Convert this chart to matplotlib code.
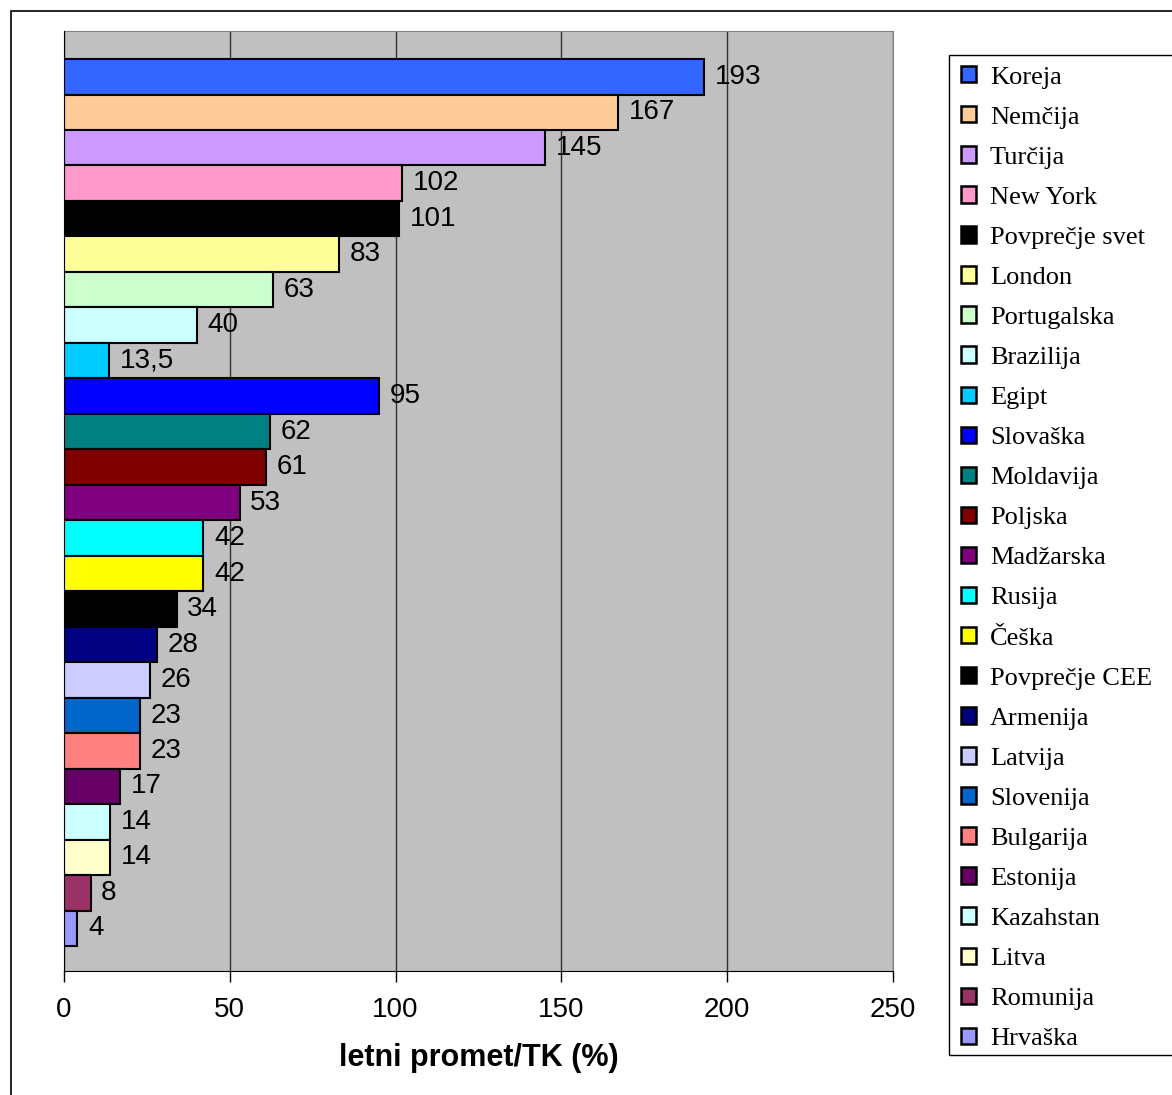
import matplotlib.pyplot as plt
from matplotlib.patches import Rectangle, Patch

countries = ['Koreja', 'Nemčija', 'Turčija', 'New York', 'Povprečje svet',
             'London', 'Portugalska', 'Brazilija', 'Egipt', 'Slovaška',
             'Moldavija', 'Poljska', 'Madžarska', 'Rusija', 'Češka',
             'Povprečje CEE', 'Armenija', 'Latvija', 'Slovenija', 'Bulgarija',
             'Estonija', 'Kazahstan', 'Litva', 'Romunija', 'Hrvaška']
values = [193, 167, 145, 102, 101, 83, 63, 40, 13.5, 95,
          62, 61, 53, 42, 42, 34, 28, 26, 23, 23,
          17, 14, 14, 8, 4]
colors = ['#3366FF', '#FFCC99', '#CC99FF', '#FF99CC', '#000000',
          '#FFFF99', '#CCFFCC', '#CCFFFF', '#00CCFF', '#0000FF',
          '#008080', '#800000', '#800080', '#00FFFF', '#FFFF00',
          '#000000', '#000080', '#CCCCFF', '#0066CC', '#FF8080',
          '#660066', '#CCFFFF', '#FFFFCC', '#993366', '#9999FF']
xticks = [0, 50, 100, 150, 200, 250]

W, H = 1172, 1095
fig = plt.figure(figsize=(W / 100, H / 100), dpi=100)
ax = fig.add_axes([64 / W, 1 - 971 / H, (893 - 64) / W, (971 - 31) / H])
ax.set_facecolor('#C0C0C0')

pos = list(range(len(values)))
ax.barh(pos, values, height=1.0, color=colors, edgecolor='black',
        linewidth=1.5, zorder=3)

for y, v in zip(pos, values):
    ax.text(v + 3.2, y, f'{v:g}'.replace('.', ','), va='center', ha='left',
            fontsize=20, family='Liberation Sans', zorder=4)

ax.set_xlim(0, 250)
ax.set_ylim(25.2, -1.29)
ax.set_xticks(xticks)
ax.set_xticklabels([str(t) for t in xticks], fontsize=20,
                   family='Liberation Sans')
ax.tick_params(axis='x', length=8, width=1, pad=11)
ax.set_yticks([])
ax.grid(axis='x', color='#303030', linewidth=1, zorder=1)
ax.set_axisbelow(True)
for side in ['left', 'bottom']:
    ax.spines[side].set_color('black')
    ax.spines[side].set_zorder(5)
for side in ['top', 'right']:
    ax.spines[side].set_color('#808080')
ax.set_xlabel('letni promet/TK (%)', fontsize=22, fontweight='bold',
              family='Liberation Sans', labelpad=14)

# legend with a frame that runs off the right edge
handles = [Patch(facecolor=c, edgecolor='black', linewidth=1.8) for c in colors]
fig.legend(handles, countries, loc='upper left',
           bbox_to_anchor=(961 / W, 1 - 66 / H), frameon=False,
           prop={'family': 'Liberation Serif', 'size': 19},
           handlelength=0.58, handleheight=0.58, handletextpad=0.52,
           labelspacing=0.665, borderpad=0, borderaxespad=0)
fig.patches.append(Rectangle((949 / W, 1 - 1055 / H), 0.2, 1000 / H,
                             transform=fig.transFigure, fill=False,
                             edgecolor='black', linewidth=1))

# outer chart border
fig.patches.append(Rectangle((11 / W, -0.1), 1.2, 1.1 - 11 / H,
                             transform=fig.transFigure, fill=False,
                             edgecolor='black', linewidth=1.2))

fig.savefig('out.png', dpi=100)
